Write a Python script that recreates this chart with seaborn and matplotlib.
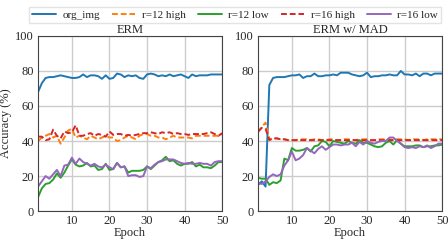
import numpy as np
import pandas as pd
import seaborn as sns
import matplotlib.pyplot as plt

epochs = list(range(1, 51))
series_names = ["org_img", "r=12 high", "r=12 low", "r=16 high", "r=16 low"]
panel_titles = ["ERM", "ERM w/ MAD"]

# ERM
erm_org = [68, 73, 76, 76.5, 76.5, 77, 77.5, 77, 76.5, 76, 76, 76.5, 78, 76.5, 77.5, 77.5, 77, 75.5, 77.5, 75.5,
           76, 78.5, 78, 76.5, 77.5, 77, 77.5, 76, 75.5, 78, 78.5, 78, 77, 77.5, 77, 78, 77, 77.5, 78, 77,
           76, 78, 77, 77.5, 77.5, 77.5, 78, 78, 78, 78]
erm_r12_high = [40, 42, 43, 44, 42, 43, 38.5, 42, 46, 47, 42, 43, 42, 41, 43, 42, 41, 42, 43, 42,
                42, 40, 40.5, 42, 43, 42, 41, 43, 44, 44, 43, 43, 42, 42, 41, 42, 43, 42, 42, 42,
                42, 41.5, 43, 43, 43, 43, 43, 43, 43, 44]
erm_r12_low = [8, 13, 15.5, 16, 18, 21.5, 19, 22, 26, 29.5, 26.5, 25.5, 26, 27.5, 25.5, 26, 23.5, 24, 27, 23.5,
               24, 27.5, 25, 25.5, 22, 23, 23, 23, 23.5, 25.5, 24, 26, 28, 29, 31, 28.5, 29, 27, 26, 27,
               27, 28, 25.5, 26.5, 25, 25, 24.5, 26, 28, 28]
erm_r16_high = [42.5, 42.5, 40.5, 41, 46.5, 43, 41.5, 45.5, 44.5, 45, 49, 43, 43, 44, 44.5, 43, 44, 43.5, 42.5, 45.5,
                43.5, 44, 44, 43, 43.5, 43, 43.5, 44, 44.5, 44.5, 45, 44.5, 44, 45, 44.5, 45, 44, 44.5, 44, 44,
                43.5, 44, 44, 44, 44, 44.5, 45, 44, 43, 44.5]
erm_r16_low = [14, 17, 20, 18.5, 21, 23.5, 20, 26, 26.5, 30.5, 27, 30, 28, 27, 26, 27, 25.5, 25, 26.5, 25,
               24, 27.5, 25, 25.5, 20, 20.5, 20.5, 19.5, 20, 25.5, 24.5, 26.5, 28, 28.5, 29.5, 29.5, 29.5, 28.5, 27.5, 27,
               27.5, 27, 27, 27.5, 27, 27, 26, 28, 28.5, 28.5]

# ERM w/ MAD
mad_org = [15, 17, 14, 72, 76, 76.5, 76.5, 76.5, 77, 77.5, 77.5, 78, 76, 77, 77, 78.5, 77, 77, 77.5, 77.5,
           78, 77.5, 79, 79, 79, 78, 77.5, 77, 77.5, 79, 76.5, 77, 77, 77.5, 77.5, 78, 77.5, 77.5, 80, 78,
           78, 77.5, 78.5, 77, 78.5, 78.5, 77.5, 78.5, 78.5, 78.5]
mad_r12_high = [45, 48, 50.5, 41, 41.5, 41.5, 41, 41, 40.5, 40.5, 40.5, 41, 41, 41, 40.5, 41, 41, 40.5, 40.5, 41,
                41, 40.5, 40.5, 41, 41, 40.5, 40.5, 41, 41, 41, 40.5, 40.5, 41, 41, 41, 41, 40.5, 41, 41, 41,
                40.5, 41, 41, 41, 40.5, 41, 41, 41, 41, 41]
mad_r12_low = [19, 18.5, 18.5, 15, 16.5, 16, 17.5, 30, 29, 36, 34.5, 34.5, 35, 36, 34, 37, 37.5, 40, 39.5, 37,
               40, 39.5, 39, 38.5, 40, 39, 38.5, 40.5, 39, 39, 38, 37, 36.5, 37, 39, 40, 38, 40.5, 38.5, 37,
               37, 37, 37.5, 37.5, 36.5, 37, 37, 37.5, 37.5, 38]
mad_r16_high = [45.5, 47.5, 47, 40.5, 41.5, 41.5, 41, 41, 40.5, 40.5, 40.5, 40.5, 40.5, 40.5, 40.5, 40.5, 40.5, 40.5, 40.5, 40.5,
                40.5, 40.5, 40.5, 40.5, 40.5, 40.5, 40.5, 40.5, 40.5, 40.5, 40.5, 40.5, 40.5, 40.5, 40.5, 40.5, 40.5, 40.5, 40.5, 40.5,
                40.5, 40.5, 40.5, 40.5, 40.5, 40.5, 40.5, 40.5, 40.5, 40.5]
mad_r16_low = [16, 15.5, 17, 19.5, 21, 20, 21, 26, 29, 34, 29, 30, 32, 36, 34.5, 33, 35.5, 37, 35, 36.5,
               38, 38, 37.5, 38, 38, 39, 37, 39.5, 38, 40, 39, 38.5, 39.5, 40, 40, 42, 42, 40, 38.5, 36.5,
               36, 36.5, 36, 37, 36.5, 37.5, 36, 37, 38.5, 38.5]

panels = {
    "ERM": [erm_org, erm_r12_high, erm_r12_low, erm_r16_high, erm_r16_low],
    "ERM w/ MAD": [mad_org, mad_r12_high, mad_r12_low, mad_r16_high, mad_r16_low],
}

# long-form table for seaborn
rows = []
for title, values in panels.items():
    for name, vals in zip(series_names, values):
        for e, v in zip(epochs, vals):
            rows.append({"panel": title, "series": name, "Epoch": e, "acc": v})
df = pd.DataFrame(rows)

sns.set_style("whitegrid")
plt.rcParams['font.family'] = ['Liberation Serif', 'DejaVu Serif']

palette = dict(zip(series_names, ["#1f77b4", "#ff7f0e", "#2ca02c", "#d62728", "#9467bd"]))
dashes = {"org_img": "", "r=12 high": (3, 1.5), "r=12 low": "", "r=16 high": (3, 1.5), "r=16 low": ""}

fig = plt.figure(figsize=(4.48, 2.41), dpi=100)
ax1 = fig.add_axes([0.085, 0.124, 0.411, 0.727])
ax2 = fig.add_axes([0.576, 0.124, 0.411, 0.727])

for ax, title in zip([ax1, ax2], panel_titles):
    sub = df[df["panel"] == title]
    sns.lineplot(data=sub, x="Epoch", y="acc", hue="series", style="series",
                 palette=palette, dashes=dashes, linewidth=1.4, ax=ax, legend=(ax is ax1))
    ax.set_xlim(1, 50)
    ax.set_ylim(0, 100)
    ax.set_xticks([10, 20, 30, 40, 50])
    ax.set_yticks([0, 20, 40, 60, 80, 100])
    ax.set_title(title, fontsize=9, pad=2)
    ax.set_xlabel("Epoch", fontsize=9, labelpad=0)
    ax.grid(color="#cccccc", linewidth=1)
    ax.tick_params(labelsize=9, length=2, pad=1)
    for s in ax.spines.values():
        s.set_color("#444444")
        s.set_linewidth(0.8)

ax1.set_ylabel("Accuracy (%)", fontsize=9, labelpad=2)
ax2.set_ylabel("")

handles, labels = ax1.get_legend_handles_labels()
ax1.get_legend().remove()
fig.legend(handles, labels, loc="upper center", bbox_to_anchor=(0.525, 0.995), ncol=5,
           fontsize=8, frameon=True, handlelength=2.1, columnspacing=1.1, handletextpad=0.6,
           borderpad=0.3, fancybox=False, edgecolor="#dddddd")

fig.savefig("out.png", dpi=100)
